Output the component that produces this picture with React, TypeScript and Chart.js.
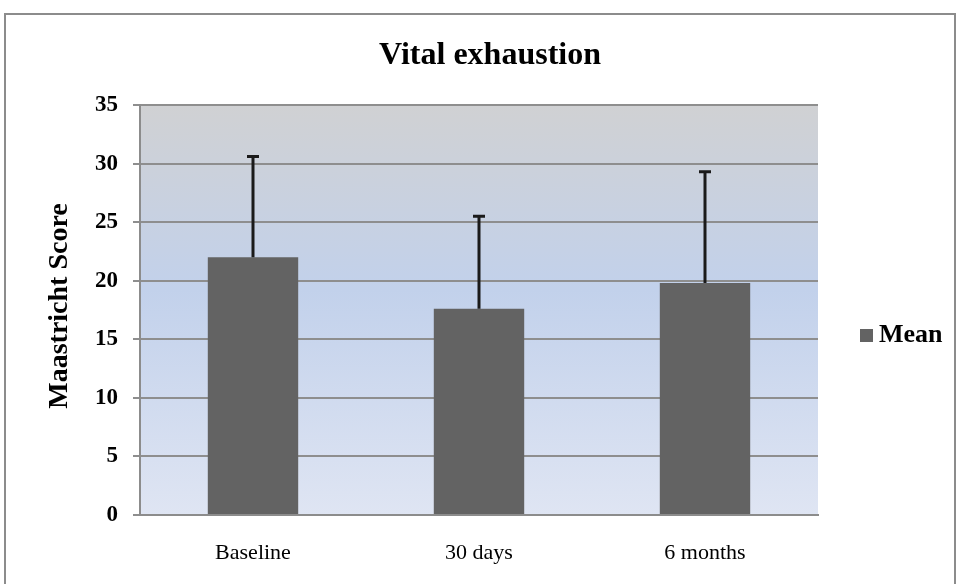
import React, { useEffect, useRef } from "react";
import { Chart, registerables } from "chart.js";

Chart.register(...registerables);

const categories = ["Baseline", "30 days", "6 months"];
const meanValues = [22.0, 17.6, 19.8];
const errorTops = [30.6, 25.5, 29.3];
const yTicks = [0, 5, 10, 15, 20, 25, 30, 35];
const titleText = "Vital exhaustion";
const yTitle = "Maastricht Score";
const seriesName = "Mean";

const SERIF = "'Liberation Serif', 'Times New Roman', serif";
const BAR = "#636363";

const bgPlugin = {
  id: "bgPlugin",
  beforeDraw(chart: any) {
    const { ctx, chartArea } = chart;
    const { left, right, top, bottom } = chartArea;
    ctx.save();
    ctx.fillStyle = "#ffffff";
    ctx.fillRect(0, 0, chart.width, chart.height);
    const g = ctx.createLinearGradient(0, top, 0, bottom);
    g.addColorStop(0, "#d0d1d3");
    g.addColorStop(0.45, "#c2d1eb");
    g.addColorStop(1, "#dfe5f3");
    ctx.fillStyle = g;
    ctx.fillRect(left, top, right - left, bottom - top);
    ctx.restore();
  },
  afterDraw(chart: any) {
    const { ctx } = chart;
    ctx.save();
    // frame
    ctx.strokeStyle = "#8c8c8c";
    ctx.lineWidth = 2;
    ctx.strokeRect(5, 14, 950, 600);
    // title
    ctx.fillStyle = "#000";
    ctx.font = `bold 32px ${SERIF}`;
    ctx.textAlign = "center";
    ctx.textBaseline = "alphabetic";
    ctx.fillText(titleText, 490, 64);
    // y title
    ctx.save();
    ctx.translate(67, 306);
    ctx.rotate(-Math.PI / 2);
    ctx.font = `bold 28px ${SERIF}`;
    ctx.textBaseline = "alphabetic";
    ctx.fillText(yTitle, 0, 0);
    ctx.restore();
    // legend
    ctx.fillStyle = BAR;
    ctx.fillRect(860, 329, 13, 13);
    ctx.fillStyle = "#000";
    ctx.font = `bold 26px ${SERIF}`;
    ctx.textAlign = "left";
    ctx.textBaseline = "alphabetic";
    ctx.fillText(seriesName, 879, 342);
    ctx.restore();
  },
};

const errorPlugin = {
  id: "errorPlugin",
  afterDatasetsDraw(chart: any) {
    const { ctx } = chart;
    const meta = chart.getDatasetMeta(0);
    const yScale = chart.scales.y;
    ctx.save();
    ctx.strokeStyle = "#1a1a1a";
    ctx.lineWidth = 3;
    meta.data.forEach((el: any, i: number) => {
      const x = Math.round(el.x);
      const yTop = yScale.getPixelForValue(errorTops[i]);
      ctx.beginPath();
      ctx.moveTo(x, el.y);
      ctx.lineTo(x, yTop);
      ctx.moveTo(x - 6, yTop);
      ctx.lineTo(x + 6, yTop);
      ctx.stroke();
    });
    ctx.restore();
  },
};

export default function App() {
  const ref = useRef<HTMLCanvasElement | null>(null);
  useEffect(() => {
    document.body.style.margin = "0";
    const chart = new Chart(ref.current as HTMLCanvasElement, {
      type: "bar",
      data: {
        labels: categories,
        datasets: [
          {
            label: seriesName,
            data: meanValues,
            backgroundColor: BAR,
            barPercentage: 0.8,
            categoryPercentage: 0.5,
          },
        ],
      },
      options: {
        responsive: false,
        animation: false,
        layout: { padding: { top: 105, right: 140, left: 0, bottom: 0 } },
        plugins: {
          legend: { display: false },
          title: { display: false },
          tooltip: { enabled: false },
        },
        scales: {
          x: {
            grid: { display: false },
            border: { color: "#8c8c8c", width: 2 },
            ticks: {
              color: "#000",
              font: { family: SERIF, size: 22 },
              padding: 17,
              maxRotation: 0,
            },
            afterFit: (s: any) => {
              s.height = 69;
            },
          },
          y: {
            min: 0,
            max: 35,
            afterBuildTicks: (s: any) => {
              s.ticks = yTicks.map((v) => ({ value: v }));
            },
            grid: { color: "#8e8e8e", lineWidth: 2, tickLength: 7 },
            border: { color: "#8c8c8c", width: 2 },
            ticks: {
              color: "#000",
              font: { family: SERIF, size: 23, weight: "bold" },
              padding: 15,
            },
            afterFit: (s: any) => {
              s.width = 140;
            },
          },
        },
      } as any,
      plugins: [bgPlugin, errorPlugin],
    });
    return () => chart.destroy();
  }, []);
  return (
    <div style={{ width: 958, height: 584 }}>
      <canvas ref={ref} width={958} height={584} style={{ display: "block" }} />
    </div>
  );
}
